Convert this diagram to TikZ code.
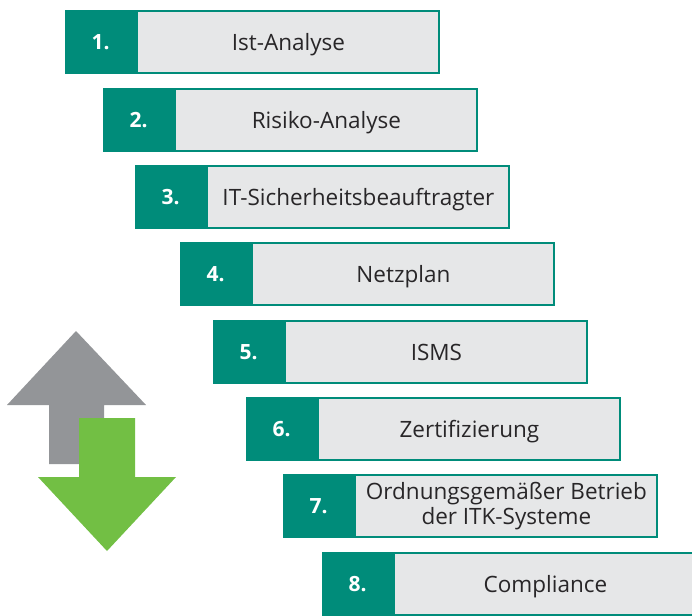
\documentclass[tikz,border=0pt]{standalone}
\usepackage{fontspec}
\setmainfont{Open Sans}
\usetikzlibrary{positioning}
\definecolor{stepteal}{RGB}{0,140,122}
\definecolor{boxgray}{RGB}{230,231,232}
\definecolor{textgray}{RGB}{40,38,40}
\definecolor{upgray}{RGB}{147,149,152}
\definecolor{downgreen}{RGB}{114,191,68}

\begin{document}
\begin{tikzpicture}[x=1pt,y=-1pt,
  num/.style={fill=stepteal,text=white,inner sep=0pt,anchor=north west,
    minimum width=71pt,minimum height=64pt,
    font=\fontsize{21}{24}\selectfont\bfseries},
  task/.style={draw=stepteal,line width=2pt,fill=boxgray,text=textgray,
    inner sep=0pt,align=center,minimum width=302pt,minimum height=62pt,
    text height=16pt,text depth=0pt,
    font=\fontsize{22.5}{25}\selectfont}]
\useasboundingbox (0,0) rectangle (692,615);
% up / down arrows on the left
\fill[upgray] (76,331) -- (146,405) -- (104,405) -- (104,464)
  -- (49,464) -- (49,405) -- (7,405) -- cycle;
\fill[downgreen] (79,418) -- (135,418) -- (135,477) -- (176,477)
  -- (107,551) -- (38,477) -- (79,477) -- cycle;
% the steps
\node[num] (num1) at (65,10) {1.};
\node[num] (num2) at (103,88) {2.};
\node[num] (num3) at (135,165) {3.};
\node[num] (num4) at (180,242) {4.};
\node[num] (num5) at (213,320) {5.};
\node[num] (num6) at (246,397) {6.};
\node[num] (num7) at (283,474) {7.};
\node[num] (num8) at (322,552) {8.};
\node[task,right=0pt of num1] (task1) {Ist-Analyse};
\node[task,right=0pt of num2] (task2) {Risiko-Analyse};
\node[task,right=0pt of num3] (task3) {IT-Sicherheitsbeauftragter};
\node[task,right=0pt of num4] (task4) {Netzplan};
\node[task,right=0pt of num5] (task5) {ISMS};
\node[task,right=0pt of num6] (task6) {Zertifizierung};
\node[task,right=0pt of num7,text height={},text depth={}] (task7)
  {Ordnungsgemäßer Betrieb\\der ITK-Systeme};
\node[task,right=0pt of num8] (task8) {Compliance};
\end{tikzpicture}
\end{document}
